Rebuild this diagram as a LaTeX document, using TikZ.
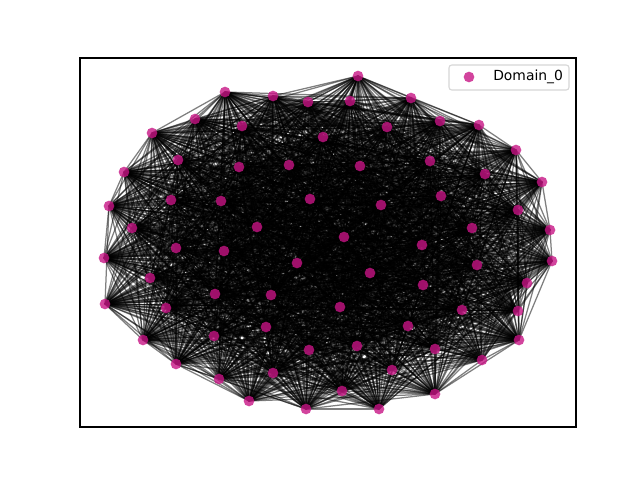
\documentclass[tikz,border=0pt]{standalone}
\usepackage{fontspec}
\setmainfont{DejaVu Sans}
\definecolor{nodecol}{RGB}{199,21,133}
\definecolor{legedge}{RGB}{204,204,204}
\begin{document}
\begin{tikzpicture}[x=0.72pt,y=-0.72pt,
  vertex/.style={circle,fill=nodecol,fill opacity=0.8,draw=none,inner sep=0pt,minimum size=7.7pt},
  edge/.style={draw=black,draw opacity=0.5,line width=0.9pt},
  frame/.style={draw=black,line width=0.8pt},
  legbox/.style={draw=legedge,fill=white,fill opacity=0.8,draw opacity=0.8,rounded corners=2pt,line width=0.8pt}]
\useasboundingbox (0,0) rectangle (640,480);
\pgfmathsetseed{7}
\foreach \x/\y [count=\i] in {358/76,225/92,273/96,308/102,350/101,411/98,195/119,242/126,323/137,387/127,
440/121,479/125,152/133,516/150,178/160,239/167,289/165,360/166,430/161,485/174,
124/172,542/182,171/200,221/201,310/199,381/205,441/196,109/206,518/210,132/228,
257/227,344/237,472/228,550/230,176/248,224/251,422/245,104/258,297/263,370/273,
477/265,552/261,150/278,423/285,527/283,215/294,271/295,105/304,166/308,340/307,
462/310,518/311,266/327,143/340,214/336,309/350,408/326,357/346,435/349,519/340,
482/360,176/364,273/373,219/379,392/370,249/401,306/409,342/391,435/394,379/409}
  {\coordinate (p\i) at (\x,\y);}
\foreach \i in {1,...,69}{
  \pgfmathtruncatemacro\js{\i+1}
  \foreach \j in {\js,...,70}{
    \pgfmathsetmacro\r{rnd}
    \ifdim\r pt<0.86pt \path[edge] (p\i) -- (p\j); \fi
  }
}
\foreach \i in {1,...,70}{\node[vertex] (n\i) at (p\i) {};}
\node[frame,draw,fill=none,inner sep=0pt,minimum width=496*0.72pt,minimum height=369*0.72pt] (axes) at (328,242.5) {};
\node[legbox,minimum width=120*0.72pt,minimum height=25*0.72pt,inner sep=0pt] (leg) at (509,77.5) {};
\node[vertex] (legmark) at (469,77) {};
\node[anchor=west,inner sep=0pt,font=\fontsize{10pt}{12pt}\selectfont] (legtext) at (493,76.5) {Domain\_0};
\end{tikzpicture}
\end{document}
